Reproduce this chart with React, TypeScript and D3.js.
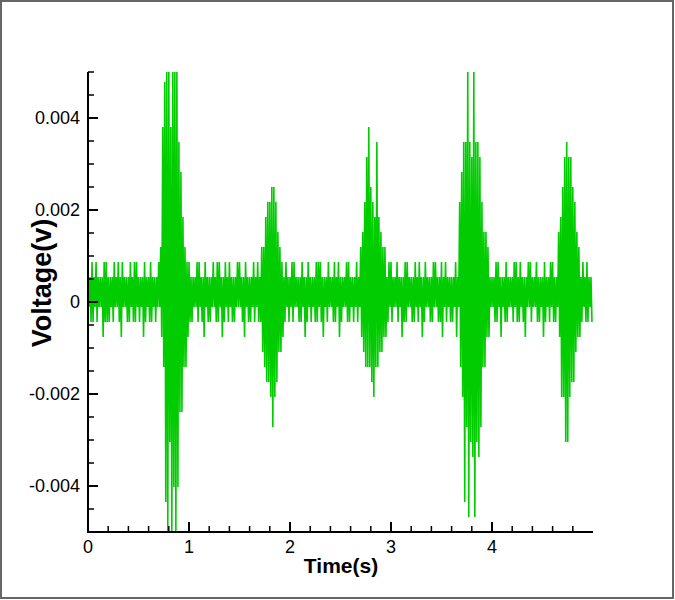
import React, { useMemo } from "react";
import * as d3 from "d3";

// Level codes (hex digit = number of quantisation steps away from the band edge),
// one character per 0.02 s, one string per second of signal.
const PEAK_CODES: string[] = [
  "112121" + "112211" + "121212" + "111212" + "211121" + "121112" + "3beffbfffa8532",
  "211122" + "112111" + "212211" + "212111" + "221121" + "112121" + "33566776432" + "121",
  "122111" + "211211" + "122211" + "121121" + "211122" + "11121" + "3469b765a5433" + "12",
  "211211" + "122111" + "212112" + "111221" + "121211" + "1121" + "68aafa9faa96443" + "1",
  "112211" + "121112" + "212111" + "221121" + "112112" + "211" + "4579a997643" + "121211",
];
const TROUGH_CODES: string[] = [
  "011010" + "021110" + "100120" + "011011" + "010210" + "110100" + "24df9fcfc77442",
  "110010" + "120110" + "011021" + "010110" + "001201" + "101011" + "34556865332" + "101",
  "010011" + "021010" + "110120" + "100110" + "210011" + "01010" + "2344456443322" + "10",
  "100102" + "110011" + "010210" + "011001" + "120101" + "1020" + "46d8e9ae9a84422" + "0",
  "011020" + "110010" + "110120" + "010011" + "021010" + "110" + "26699655322" + "101101",
];
const SAMPLE_STEP = 0.02;
const LEVEL_STEP = 0.000326;
const PEAK_BASE = 0.000218;
const TROUGH_BASE = -0.000108;

const X_DOMAIN = [0, 5];
const Y_DOMAIN = [-0.005, 0.005];
const X_MAJOR = [0, 1, 2, 3, 4];
const X_MINOR = [0.2, 0.4, 0.6, 0.8, 1.2, 1.4, 1.6, 1.8, 2.2, 2.4, 2.6, 2.8, 3.2, 3.4, 3.6, 3.8, 4.2, 4.4, 4.6, 4.8];
const Y_MAJOR = [-0.004, -0.002, 0, 0.002, 0.004];
const Y_MAJOR_LABELS = ["-0.004", "-0.002", "0", "0.002", "0.004"];
const Y_MINOR = [-0.005, -0.0045, -0.0035, -0.003, -0.0025, -0.0015, -0.001, -0.0005, 0.0005, 0.001, 0.0015, 0.0025, 0.003, 0.0035, 0.0045, 0.005];
const X_TITLE = "Time(s)";
const Y_TITLE = "Voltage(v)";

const W = 675;
const H = 600;
const LEFT = 88;
const RIGHT = 593;
const TOP = 72;
const BOTTOM = 532;
const FONT = "'Liberation Sans', Arial, Helvetica, sans-serif";

export default function App() {
  const x = d3.scaleLinear().domain(X_DOMAIN).range([LEFT, RIGHT]);
  const y = d3.scaleLinear().domain(Y_DOMAIN).range([BOTTOM, TOP]).clamp(true);

  const samples = useMemo(() => {
    const out: { t: number; v: number }[] = [];
    PEAK_CODES.forEach((peaks, s) => {
      const troughs = TROUGH_CODES[s];
      for (let k = 0; k < peaks.length; k++) {
        const t = (s * 50 + k) * SAMPLE_STEP;
        out.push({ t, v: PEAK_BASE + parseInt(peaks[k], 16) * LEVEL_STEP });
        out.push({ t: t + SAMPLE_STEP / 2, v: TROUGH_BASE - parseInt(troughs[k], 16) * LEVEL_STEP });
      }
    });
    return out;
  }, []);

  const line = d3
    .line<{ t: number; v: number }>()
    .x((d) => x(d.t))
    .y((d) => y(d.v));

  return (
    <svg
      width={W}
      height={H}
      style={{ position: "absolute", left: 0, top: 0, display: "block", background: "#fff" }}
    >
      <rect x={0} y={0} width={W} height={H} fill="#fff" />
      <rect x={1} y={1} width={672} height={597} fill="none" stroke="#666" strokeWidth={2} />
      <path d={line(samples) || ""} fill="none" stroke="#00cc00" strokeWidth={1.6} strokeLinejoin="miter" strokeMiterlimit={1} />

      {/* axes */}
      <line x1={LEFT} x2={LEFT} y1={TOP} y2={BOTTOM + 1} stroke="#000" strokeWidth={2} />
      <line x1={LEFT - 1} x2={RIGHT} y1={BOTTOM} y2={BOTTOM} stroke="#000" strokeWidth={2} />

      {Y_MAJOR.map((v, i) => (
        <g key={"ym" + i}>
          <line x1={LEFT} x2={LEFT + 10} y1={y(v)} y2={y(v)} stroke="#000" strokeWidth={2} />
          <text x={LEFT - 8} y={y(v)} dy="0.36em" textAnchor="end" fontFamily={FONT} fontSize={18}>
            {Y_MAJOR_LABELS[i]}
          </text>
        </g>
      ))}
      {Y_MINOR.map((v, i) => (
        <line key={"yn" + i} x1={LEFT} x2={LEFT + 6} y1={y(v)} y2={y(v)} stroke="#000" strokeWidth={1.5} />
      ))}
      {X_MAJOR.map((v, i) => (
        <g key={"xm" + i}>
          <line x1={x(v)} x2={x(v)} y1={BOTTOM} y2={BOTTOM - 10} stroke="#000" strokeWidth={2} />
          <text x={x(v)} y={553} textAnchor="middle" fontFamily={FONT} fontSize={18}>
            {String(v)}
          </text>
        </g>
      ))}
      {X_MINOR.map((v, i) => (
        <line key={"xn" + i} x1={x(v)} x2={x(v)} y1={BOTTOM} y2={BOTTOM - 6} stroke="#000" strokeWidth={1.5} />
      ))}

      <text x={341} y={573} textAnchor="middle" fontFamily={FONT} fontSize={21} fontWeight="bold">
        {X_TITLE}
      </text>
      <text
        transform={`translate(51, 283) rotate(-90)`}
        textAnchor="middle"
        fontFamily={FONT}
        fontSize={27}
        fontWeight="bold"
      >
        {Y_TITLE}
      </text>
    </svg>
  );
}
